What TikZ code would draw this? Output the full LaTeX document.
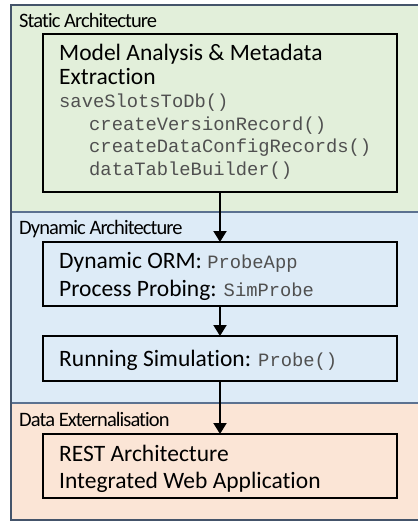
\documentclass[tikz,border=0pt]{standalone}
\usepackage{fontspec}
\setmainfont{Carlito}[Ligatures={NoCommon,NoRare,NoContextual}]
\setmonofont{Liberation Mono}
\usetikzlibrary{arrows.meta}
\definecolor{staticfill}{HTML}{E2EFDA}
\definecolor{dynfill}{HTML}{DDEBF7}
\definecolor{extfill}{HTML}{FBE5D6}
\definecolor{frameline}{HTML}{44546A}
\definecolor{sepline}{HTML}{5B7190}
\definecolor{codegrey}{HTML}{505050}
\newcommand{\codetxt}[1]{{\fontsize{18.8}{22}\selectfont\ttfamily\color{codegrey}#1}}
\begin{document}
\begin{tikzpicture}[x=1pt,y=-1pt,
  stagebox/.style={draw=black,line width=2pt},
  bandlabel/.style={anchor=base west,inner sep=0pt,font=\fontsize{20.5}{24}\selectfont\addfontfeature{LetterSpace=-4.5}},
  boxtext/.style={anchor=base west,inner sep=0pt,font=\fontsize{23.5}{28}\selectfont},
  codeline/.style={anchor=base west,inner sep=0pt},
  flow/.style={line width=2pt,-{Triangle[width=13pt,length=11pt]}}]
\useasboundingbox (0,0) rectangle (417,521);
% bands
\fill[staticfill] (11,5) rectangle (420,212);
\fill[dynfill] (11,212) rectangle (420,403);
\fill[extfill] (11,403) rectangle (420,520);
\draw[sepline,line width=1.2pt] (11,212) -- (420,212);
\draw[sepline,line width=1.2pt] (11,403) -- (420,403);
\draw[frameline,line width=1.5pt] (420,5) -- (11,5) -- (11,520) -- (420,520);
% band titles
\node[bandlabel] (lstatic) at (19,28) {Static Architecture};
\node[bandlabel] (ldyn) at (19,234) {Dynamic Architecture};
\node[bandlabel] (lext) at (19,426) {Data Externalisation};
% stage boxes
\draw[stagebox] (43,34) rectangle (397,192);
\draw[stagebox] (43,242) rectangle (397,306);
\draw[stagebox] (43,336) rectangle (397,381);
\draw[stagebox] (43,434) rectangle (397,498);
\coordinate (b1s) at (220,192);
\coordinate (b2n) at (220,242);
\coordinate (b2s) at (220,306);
\coordinate (b3n) at (220,336);
\coordinate (b3s) at (220,381);
\coordinate (b4n) at (220,434);
% texts
\node[boxtext] (t1) at (59,61) {Model Analysis \& Metadata};
\node[boxtext] (t2) at (59,84.5) {Extraction};
\node[codeline] (c1) at (59,108) {\codetxt{saveSlotsToDb()}};
\node[codeline] (c2) at (89,131) {\codetxt{createVersionRecord()}};
\node[codeline] (c3) at (89,153) {\codetxt{createDataConfigRecords()}};
\node[codeline] (c4) at (89,176) {\codetxt{dataTableBuilder()}};
\node[boxtext] (t3) at (59,268) {Dynamic ORM: \codetxt{ProbeApp}};
\node[boxtext] (t4) at (59,296) {Process Probing: \codetxt{SimProbe}};
\node[boxtext] (t5) at (59,366) {Running Simulation: \codetxt{Probe()}};
\node[boxtext] (t6) at (59,461) {REST Architecture};
\node[boxtext] (t7) at (59,488) {Integrated Web Application};
% flow arrows
\draw[flow] (b1s) -- (b2n);
\draw[flow] (b2s) -- (b3n);
\draw[flow] (b3s) -- (b4n);
\end{tikzpicture}
\end{document}
